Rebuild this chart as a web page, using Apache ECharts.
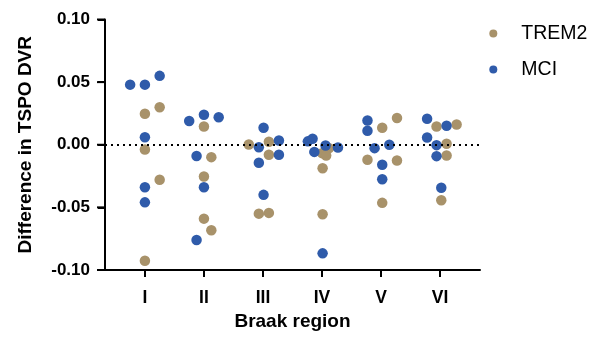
<!DOCTYPE html>
<html><head><meta charset="utf-8">
<script src="https://cdn.jsdelivr.net/npm/echarts@6/dist/echarts.min.js"></script>
<style>html,body{margin:0;padding:0;background:#fff}#c{width:602px;height:337px}</style>
</head><body><div id="c"></div>
<script>
const regions = ['I','II','III','IV','V','VI'];
const regionTicks = [1,2,3,4,5,6];
const yTicks = [-0.10,-0.05,0.00,0.05,0.10];
// jittered region coordinate (1 = I ... 6 = VI) and value
const trem2X = [1,1.25,1,1.25,1, 2,2.125,2,2,2.125, 2.76,3.1,3.1,2.93,3.1, 4.0,4.07,4.12,4.01,4.01, 5.02,5.27,4.77,5.27,5.02, 5.94,6.28,6.11,6.11,6.02];
const trem2Y = [0.0248,0.030,-0.0038,-0.028,-0.0926, 0.0146,-0.0099,-0.0254,-0.059,-0.0683, 0.0002,0.0024,-0.008,-0.055,-0.0544, -0.0067,-0.0086,-0.0027,-0.0187,-0.0555, 0.0136,0.0213,-0.012,-0.0126,-0.0464, 0.0146,0.0162,0.0008,-0.0086,-0.0443];
const mciX = [0.75,1,1.25,1,1,1, 1.75,2,2.25,1.875,2,1.875, 3.01,2.93,3.27,3.27,2.93,3.01, 3.76,3.84,3.87,4.06,4.27,4.01, 4.77,4.77,4.89,5.14,5.02,5.02, 5.78,6.11,5.78,5.94,5.94,6.02];
const mciY = [0.048,0.048,0.055,0.006,-0.034,-0.046, 0.019,0.024,0.022,-0.009,-0.034,-0.076, 0.0136,-0.002,0.0034,-0.008,-0.0144,-0.040, 0.0027,0.0048,-0.0057,-0.0006,-0.0022,-0.0867, 0.0194,0.0112,-0.0027,0.0,-0.016,-0.0275, 0.0208,0.0152,0.0058,-0.0003,-0.0091,-0.0344];

const zip = (xs, ys) => xs.map((x,i)=>[x, ys[i]]);
const FONT = 'Liberation Sans, Arial, sans-serif';
const X_MIN = 0.324, X_MAX = 6.676;
const chart = echarts.init(document.getElementById('c'), null, {renderer:'canvas'});
chart.setOption({
  animation:false,
  grid:{left:105, right:122, top:19.5, bottom:67, outerBoundsMode:'none', containLabel:false},
  legend:{
    orient:'vertical', left:489.3, top:23.5, itemGap:16, padding:0,
    icon:'circle', itemWidth:8, itemHeight:8,
    textStyle:{fontFamily:FONT, fontSize:19.5, color:'#000', padding:[0,0,0,19]},
    data:['TREM2','MCI']
  },
  xAxis:{
    type:'value', min:X_MIN, max:X_MAX,
    name:'Braak region', nameLocation:'middle', nameGap:39,
    nameTextStyle:{fontFamily:FONT, fontSize:19, fontWeight:'bold', color:'#000'},
    axisLine:{show:true, onZero:false, lineStyle:{color:'#000', width:2}},
    axisTick:{show:true, inside:false, length:7, lineStyle:{color:'#000', width:2}, customValues:regionTicks},
    axisLabel:{fontFamily:FONT, fontSize:17.5, fontWeight:'bold', color:'#000', margin:19,
      customValues:regionTicks, formatter:v=>regions[Math.round(v)-1]},
    splitLine:{show:false}
  },
  yAxis:{
    type:'value', min:-0.10, max:0.10, interval:0.05,
    name:'Difference in TSPO DVR', nameLocation:'middle', nameGap:70,
    nameTextStyle:{fontFamily:FONT, fontSize:19, fontWeight:'bold', color:'#000'},
    axisLine:{show:true, onZero:false, lineStyle:{color:'#000', width:2}},
    axisTick:{show:true, inside:false, length:7, lineStyle:{color:'#000', width:2}},
    axisLabel:{fontFamily:FONT, fontSize:17, fontWeight:'bold', color:'#000', margin:15,
      formatter:v=>v.toFixed(2)},
    splitLine:{show:false}
  },
  series:[
    {name:'TREM2', type:'scatter', symbolSize:10.5, itemStyle:{color:'#A8926A', opacity:1},
     data:zip(trem2X, trem2Y),
     markLine:{silent:true, symbol:'none', label:{show:false},
       lineStyle:{color:'#000', type:[2,4], width:2}, data:[{yAxis:0}]}},
    {name:'MCI', type:'scatter', symbolSize:10.5, itemStyle:{color:'#2F5BAA', opacity:1},
     data:zip(mciX, mciY)},
    {name:'yTicks', type:'custom', silent:true, clip:false, z:20, legendHoverLink:false,
     data:yTicks.map(v=>[X_MIN, v]),
     renderItem:(params, api) => {
       const p = api.coord([api.value(0), api.value(1)]);
       return {type:'line', shape:{x1:p[0]-8, y1:p[1], x2:p[0], y2:p[1]},
         style:{stroke:'#000', lineWidth:2}};
     }}
  ]
});
</script></body></html>
